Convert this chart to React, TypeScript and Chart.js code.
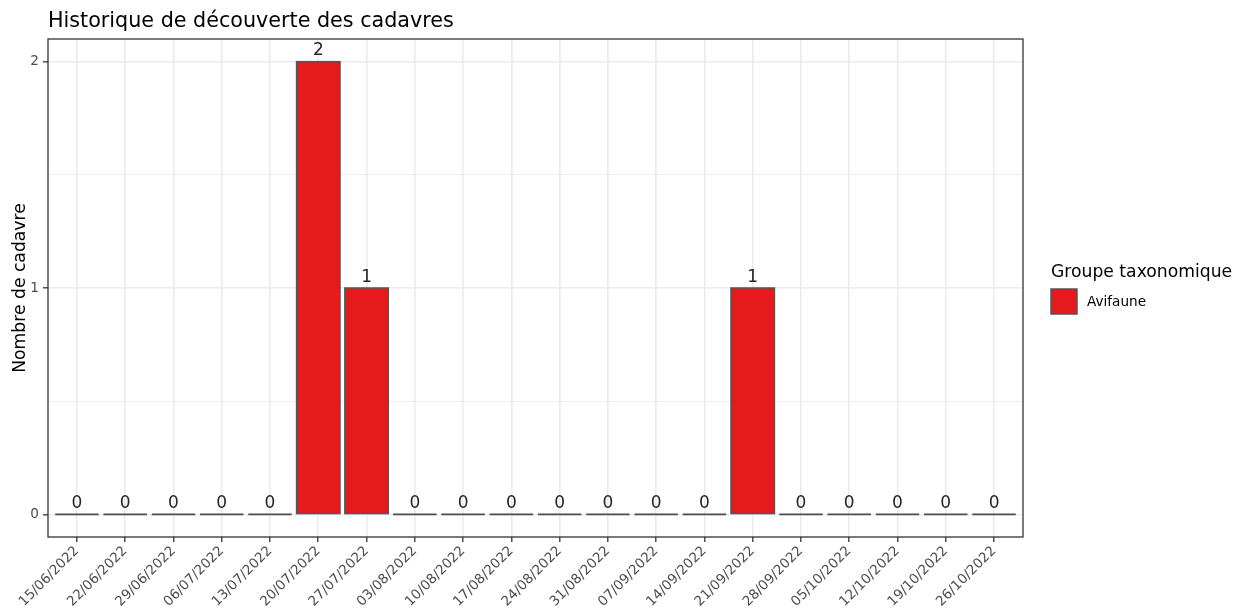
import React, { useEffect, useRef } from 'react';
import { Chart, registerables } from 'chart.js';
Chart.register(...registerables);

const dates = ['15/06/2022', '22/06/2022', '29/06/2022', '06/07/2022', '13/07/2022', '20/07/2022', '27/07/2022', '03/08/2022', '10/08/2022', '17/08/2022', '24/08/2022', '31/08/2022', '07/09/2022', '14/09/2022', '21/09/2022', '28/09/2022', '05/10/2022', '12/10/2022', '19/10/2022', '26/10/2022'];
const counts = [0, 0, 0, 0, 0, 2, 1, 0, 0, 0, 0, 0, 0, 0, 1, 0, 0, 0, 0, 0];
const yTicks = [0, 0.5, 1, 1.5, 2];
const seriesName = 'Avifaune';
const legendTitle = 'Groupe taxonomique';
const chartTitle = 'Historique de découverte des cadavres';
const yTitle = 'Nombre de cadavre';

const FONT = '"DejaVu Sans", sans-serif';
const FILL = '#E41A1C';
const EDGE = '#555555';

const overlay = {
  id: 'overlay',
  afterDatasetsDraw(chart: any) {
    const ctx = chart.ctx;
    const meta = chart.getDatasetMeta(0);
    ctx.save();
    meta.data.forEach((el: any, i: number) => {
      const v = counts[i];
      const l = el.x - el.width / 2;
      if (v === 0) {
        ctx.strokeStyle = '#4D4D4D';
        ctx.lineWidth = 1.6;
        ctx.beginPath();
        ctx.moveTo(l, el.y);
        ctx.lineTo(l + el.width, el.y);
        ctx.stroke();
      } else {
        ctx.strokeStyle = EDGE;
        ctx.lineWidth = 1.5;
        ctx.strokeRect(l, el.y, el.width, el.base - el.y);
      }
      ctx.fillStyle = '#262626';
      ctx.font = `17px ${FONT}`;
      ctx.textAlign = 'center';
      ctx.textBaseline = 'alphabetic';
      ctx.fillText(String(v), el.x, el.y - 6.5);
    });
    const a = chart.chartArea;
    ctx.strokeStyle = '#333333';
    ctx.lineWidth = 1.3;
    ctx.strokeRect(a.left, a.top, a.right - a.left, a.bottom - a.top);
    ctx.restore();
  },
  afterDraw(chart: any) {
    const ctx = chart.ctx;
    const a = chart.chartArea;
    ctx.save();
    ctx.fillStyle = '#000000';
    ctx.font = `20.7px ${FONT}`;
    ctx.textAlign = 'left';
    ctx.textBaseline = 'alphabetic';
    ctx.fillText(chartTitle, a.left, 27);

    ctx.save();
    ctx.translate(25, (a.top + a.bottom) / 2);
    ctx.rotate(-Math.PI / 2);
    ctx.font = `17.2px ${FONT}`;
    ctx.textAlign = 'center';
    ctx.fillText(yTitle, 0, 0);
    ctx.restore();

    ctx.font = `17.2px ${FONT}`;
    ctx.textAlign = 'left';
    ctx.fillStyle = '#000000';
    ctx.fillText(legendTitle, 1051, 277);
    ctx.fillStyle = FILL;
    ctx.fillRect(1051, 289, 26, 25);
    ctx.strokeStyle = EDGE;
    ctx.lineWidth = 1.5;
    ctx.strokeRect(1051, 289, 26, 25);
    ctx.fillStyle = '#000000';
    ctx.font = `13.6px ${FONT}`;
    ctx.textBaseline = 'middle';
    ctx.fillText(seriesName, 1087, 302);
    ctx.restore();
  },
};

export default function App() {
  const ref = useRef<HTMLCanvasElement>(null);
  useEffect(() => {
    if (!ref.current) return;
    const chart = new Chart(ref.current, {
      type: 'bar',
      data: {
        datasets: [{
          label: seriesName,
          data: counts.map((v, i) => ({ x: i, y: v })),
          backgroundColor: FILL,
          borderWidth: 0,
          categoryPercentage: 1,
          barPercentage: 0.9,
          inflateAmount: 0,
        }],
      },
      options: {
        animation: false,
        responsive: false,
        devicePixelRatio: 1,
        layout: { padding: { top: 39, right: 212, left: 0, bottom: 0 } },
        plugins: { legend: { display: false }, tooltip: { enabled: false }, title: { display: false } },
        scales: {
          x: {
            type: 'linear',
            min: -0.6,
            max: dates.length - 1 + 0.6,
            offset: false,
            afterBuildTicks: (s: any) => { s.ticks = dates.map((_, i) => ({ value: i })); },
            afterFit: (s: any) => { s.height = 74; },
            ticks: {
              autoSkip: false,
              maxRotation: 45,
              minRotation: 45,
              padding: 1,
              color: '#4D4D4D',
              font: { family: FONT, size: 13.6 },
              callback: (v: any) => dates[Math.round(Number(v))] ?? '',
            },
            grid: { offset: false, color: '#EBEBEB', lineWidth: 1.6, tickLength: 5, tickColor: '#333333', tickWidth: 1.3 },
            border: { display: false },
          },
          y: {
            type: 'linear',
            min: -0.1,
            max: 2.1,
            afterBuildTicks: (s: any) => { s.ticks = yTicks.map((v) => ({ value: v })); },
            afterFit: (s: any) => { s.width = 48; },
            ticks: {
              padding: 4,
              color: '#4D4D4D',
              font: { family: FONT, size: 13.6 },
              callback: (v: any) => (Number.isInteger(Number(v)) ? String(v) : ''),
            },
            grid: {
              color: '#EBEBEB',
              lineWidth: (c: any) => (c.tick && Number.isInteger(c.tick.value) ? 1.6 : 0.8),
              tickLength: 5,
              tickWidth: 1.3,
              tickColor: (c: any) => (c.tick && Number.isInteger(c.tick.value) ? '#333333' : 'rgba(0,0,0,0)'),
            },
            border: { display: false },
          },
        },
      },
      plugins: [overlay],
    } as any);
    return () => chart.destroy();
  }, []);
  return (
    <div style={{ position: 'absolute', left: 0, top: 0, width: 1235, height: 611, background: '#fff' }}>
      <canvas ref={ref} width={1235} height={611} style={{ display: 'block' }} />
    </div>
  );
}
